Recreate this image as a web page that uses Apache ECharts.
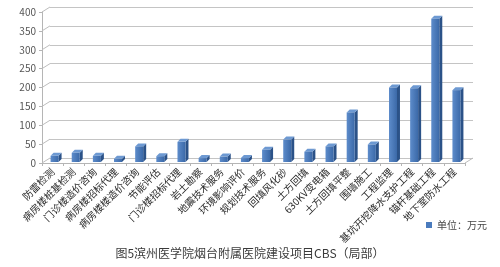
<!DOCTYPE html>
<html>
<head>
<meta charset="utf-8">
<script src="https://cdn.jsdelivr.net/npm/echarts@6/dist/echarts.min.js"></script>
<style>html,body{margin:0;padding:0;background:#fff}#c{width:500px;height:267px}</style>
</head>
<body>
<div id="c"></div>
<script>
var categories = ['防雷检测','病房楼桩基检测','门诊楼造价咨询','病房楼招标代理','病房楼楼造价咨询','节能评估','门诊楼招标代理','岩土勘察','地震技术服务','环境影响评价','规划技术服务','回填风化砂','土方回填','630KV变电箱','土方回填平整','围墙施工','工程监理','基坑开挖降水支护工程','锚杆基础工程','地下室防水工程'];
var values = [15, 23, 15, 7, 40, 14, 52, 9, 13, 9, 31, 58, 26, 40, 130, 45, 196, 194, 378, 189];
var yTicks = [0, 50, 100, 150, 200, 250, 300, 350, 400];
var seriesName = '单位：万元';
var titleText = '图5滨州医学院烟台附属医院建设项目CBS（局部）';

var DX = 8, DY = 5;
var chart = echarts.init(document.getElementById('c'));
var font = '"Noto Sans CJK SC", "Noto Sans", sans-serif';

function barItem(params, api) {
  var top = api.coord([api.value(0), api.value(1)]);
  var base = api.coord([api.value(0), 0]);
  var w = 8, d = 3, dd = 3;
  var cx = top[0] + 2;
  var xl = cx - w / 2, xr = cx + w / 2;
  var yt = top[1] - 1.5, yb = base[1] - 1;
  return {
    type: 'group',
    children: [
      { type: 'polygon', shape: { points: [[xr, yt], [xr + d, yt - dd], [xr + d, yb - dd], [xr, yb]] }, style: { fill: '#2b5288' } },
      { type: 'polygon', shape: { points: [[xl, yt], [xl + d, yt - dd], [xr + d, yt - dd], [xr, yt]] }, style: { fill: '#6d99d2' } },
      { type: 'rect', shape: { x: xl, y: yt, width: w, height: Math.max(0, yb - yt) },
        style: { fill: new echarts.graphic.LinearGradient(0, 0, 1, 0, [{ offset: 0, color: '#5d8ccb' }, { offset: 1, color: '#3b69a8' }]) } }
    ]
  };
}

function frameItem(params, api) {
  var v = api.value(0);
  var p = api.coord([0, v]);
  var bw = api.size([1, 0])[0];
  var xl = p[0] - bw / 2;
  var children = [
    { type: 'line', shape: { x1: xl, y1: p[1], x2: xl + DX, y2: p[1] - DY }, style: { stroke: '#bdbdbd', lineWidth: 1 } }
  ];
  if (v === 0) {
    var q = api.coord([categories.length - 1, 0]);
    var xr = q[0] + bw / 2;
    children.push({ type: 'line', shape: { x1: xr, y1: q[1], x2: xr + DX, y2: q[1] - DY }, style: { stroke: '#bdbdbd', lineWidth: 1 } });
  }
  return { type: 'group', children: children };
}

var option = {
  animation: false,
  backgroundColor: '#fff',
  title: {
    text: titleText, left: 'center', bottom: 3,
    textStyle: { fontFamily: font, fontSize: 12, fontWeight: 'normal', color: '#3a3a3a' }
  },
  legend: {
    data: [seriesName], right: 8, top: 215, icon: 'rect', itemWidth: 6, itemHeight: 6, itemGap: 4,
    textStyle: { fontFamily: font, fontSize: 10, color: '#444' }
  },
  grid: [
    { left: 42, right: 35, top: 12, bottom: 104 },
    { left: 42 + DX, right: 35 - DX, top: 12 - DY, bottom: 104 + DY }
  ],
  xAxis: [
    {
      type: 'category', data: categories, gridIndex: 0,
      axisLine: { lineStyle: { color: '#b5b5b5' } },
      axisTick: { show: true, interval: 0, alignWithLabel: false, length: 3, lineStyle: { color: '#b5b5b5' } },
      axisLabel: { interval: 0, rotate: 45, margin: 7, fontFamily: font, fontSize: 10, color: '#2a2a2a' }
    },
    { type: 'category', data: categories, gridIndex: 1, show: false }
  ],
  yAxis: [
    {
      type: 'value', gridIndex: 0, min: 0, max: 400, interval: 50,
      axisLine: { show: true, lineStyle: { color: '#b5b5b5' } },
      axisTick: { show: true, length: 3, lineStyle: { color: '#b5b5b5' } },
      axisLabel: { fontFamily: font, fontSize: 10, color: '#555', margin: 6 },
      splitLine: { show: false }
    },
    {
      type: 'value', gridIndex: 1, min: 0, max: 400, interval: 50,
      axisLine: { show: false }, axisTick: { show: false }, axisLabel: { show: false },
      splitLine: { show: true, lineStyle: { color: '#c4c4c4', width: 1 } }
    }
  ],
  series: [
    {
      type: 'custom', xAxisIndex: 0, yAxisIndex: 0, silent: true, z: 1,
      renderItem: frameItem,
      data: yTicks.map(function (t) { return [t]; }),
      encode: { y: 0 }
    },
    {
      name: seriesName, type: 'custom', xAxisIndex: 0, yAxisIndex: 0, z: 3,
      itemStyle: { color: '#4a7bbd' },
      renderItem: barItem,
      data: categories.map(function (c, i) { return [i, values[i]]; }),
      encode: { x: 0, y: 1 }
    }
  ]
};
chart.setOption(option);
</script>
</body>
</html>
